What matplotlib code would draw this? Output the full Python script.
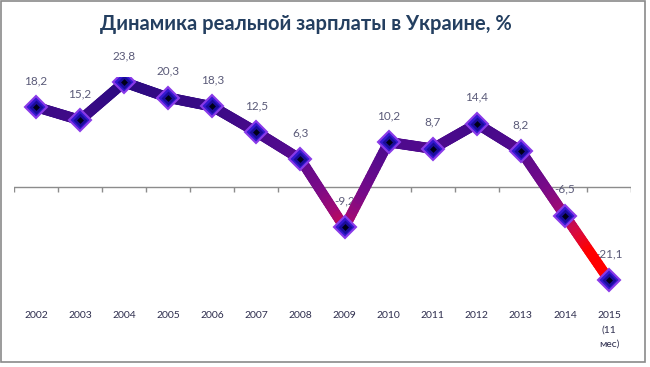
import numpy as np
import matplotlib
matplotlib.use('Agg')
from matplotlib import pyplot as plt
from matplotlib.collections import LineCollection
from matplotlib.colors import LinearSegmentedColormap
from matplotlib.patches import Rectangle

plt.rcParams['font.family'] = ['Lato', 'DejaVu Sans']

years = ['2002', '2003', '2004', '2005', '2006', '2007', '2008', '2009',
         '2010', '2011', '2012', '2013', '2014', '2015\n(11\nмес)']
wages = [18.2, 15.2, 23.8, 20.3, 18.3, 12.5, 6.3, -9.2,
         10.2, 8.7, 14.4, 8.2, -6.5, -21.1]

fig = plt.figure(figsize=(6.5, 3.67), dpi=100)
ax = fig.add_axes([14 / 650, 1 - 297 / 367, 617 / 650, 220 / 367])
ax.set_xlim(-0.5, len(years) - 0.5)
ax.set_ylim(-25, 25)
for s in ax.spines.values():
    s.set_visible(False)
ax.set_yticks([])

# zero axis with category boundary ticks
ax.axhline(0, color='#8c8c8c', lw=1, zorder=1)
bounds = np.arange(len(years) + 1) - 0.5
ax.vlines(bounds, -1.1, 0, color='#8c8c8c', lw=1, zorder=1)

# line coloured by height (gradient like the original)
cmap = LinearSegmentedColormap.from_list('wage', [
    (0.0, '#2a0a80'), (0.35, '#520a8e'), (0.55, '#780a88'),
    (0.68, '#a40a72'), (0.78, '#d80a40'), (0.87, '#ff0000'), (1.0, '#ff0000')])
x = np.arange(len(wages))
y = np.array(wages)
segs, cols = [], []
for i in range(len(x) - 1):
    # split each segment only so the colour can change along it
    sx = np.linspace(x[i], x[i + 1], 25)
    sy = np.linspace(y[i], y[i + 1], 25)
    for j in range(len(sx) - 1):
        segs.append([(sx[j], sy[j]), (sx[j + 1], sy[j + 1])])
        cols.append(cmap((24 - (sy[j] + sy[j + 1]) / 2) / 45))
lc = LineCollection(segs, colors=cols, linewidths=7.5, capstyle='round', zorder=3)
ax.add_collection(lc)

# diamond markers with a dark centre
ax.plot(x, y, 'D', ms=11, mfc='#3418d0', mec='#8a3ae8', mew=1.5, zorder=4)
ax.plot(x, y, 'D', ms=7, mfc='#1a0c9a', mec='none', zorder=5)
ax.plot(x, y, 'D', ms=3.5, mfc='#000018', mec='none', zorder=6)

for xi, v in zip(x, wages):
    ax.annotate(f'{v:.1f}'.replace('.', ','), (xi, v), xytext=(0, 19),
                textcoords='offset points', ha='center', va='center',
                fontsize=8.5, color='#5a5a78', zorder=2, annotation_clip=False)

ax.set_xticks(x)
ax.set_xticklabels(years, fontsize=7.5, color='#2e2e4e', va='top')
ax.tick_params(axis='x', length=0, pad=10)
for t in ax.get_xticklabels():
    t.set_linespacing(1.75)

fig.text(306 / 650, 1 - 24 / 367, 'Динамика реальной зарплаты в Украине, %',
         ha='center', va='center', fontsize=14.5, fontweight='bold', color='#243f60')

fig.patches.append(Rectangle((1 / 650, 1 - 362 / 367), 644 / 650, 361 / 367,
                             transform=fig.transFigure, fill=False,
                             edgecolor='#8a8a8a', lw=1.2))

fig.savefig('out.png', dpi=100)
